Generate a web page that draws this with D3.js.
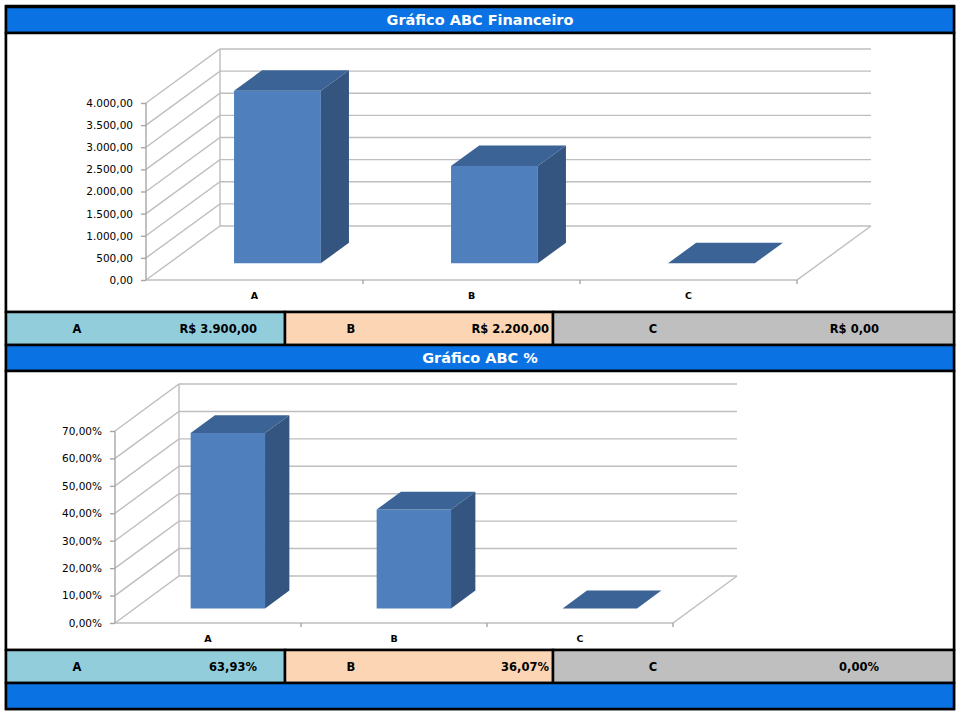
<!DOCTYPE html>
<html>
<head>
<meta charset="utf-8">
<script src="https://cdn.jsdelivr.net/npm/d3@7"></script>
<style>
  body { margin: 0; background: #fff; }
  svg { display: block; }
</style>
</head>
<body>
<div id="chart"></div>
<script>
// dados
var categorias = ['A', 'B', 'C'];
var valores = [3900, 2200, 0];
var percentuais = [63.93, 36.07, 0];
var ticksFinanceiro = [0, 500, 1000, 1500, 2000, 2500, 3000, 3500, 4000];
var ticksPercentual = [0, 10, 20, 30, 40, 50, 60, 70];
var titulos = ['Gráfico ABC Financeiro', 'Gráfico ABC %'];
var coresLinha = ['#92CDDC', '#FCD5B4', '#BFBFBF'];

var br = d3.formatLocale({ decimal: ',', thousands: '.', grouping: [3], currency: ['R$ ', ''] });
var fmtNum = br.format(',.2f'),
    fmtMoeda = br.format('$,.2f'),
    fmtPct = function(v) { return fmtNum(v) + '%'; };

var W = 960, H = 720;
var svg = d3.select('#chart').append('svg')
  .attr('width', W).attr('height', H)
  .attr('viewBox', '0 0 ' + W + ' ' + H);

var L = 6, R = 954;
var azul = '#0A72E2';
var fonteBold = '"DejaVu Sans", Verdana, sans-serif';

function barra(y0, y1, titulo) {
  svg.append('rect').attr('x', L).attr('y', y0).attr('width', R - L).attr('height', y1 - y0)
    .attr('fill', azul).attr('stroke', '#000').attr('stroke-width', 2.5);
  if (titulo) {
    svg.append('text').attr('x', (L + R) / 2).attr('y', (y0 + y1) / 2 + 1)
      .attr('text-anchor', 'middle').attr('dominant-baseline', 'middle')
      .attr('fill', '#fff').attr('font-family', fonteBold).attr('font-weight', 'bold')
      .attr('font-size', 14.5).text(titulo);
  }
}

function area(y0, y1) {
  svg.append('rect').attr('x', L).attr('y', y0).attr('width', R - L).attr('height', y1 - y0)
    .attr('fill', '#fff').attr('stroke', '#000').attr('stroke-width', 2.5);
}

function linha(y0, y1, textos) {
  var cols = [L, 285, 553, R];
  var lab = [77, 351, 653], val = [257, 549, 879];
  categorias.forEach(function(c, i) {
    svg.append('rect').attr('x', cols[i]).attr('y', y0).attr('width', cols[i + 1] - cols[i]).attr('height', y1 - y0)
      .attr('fill', coresLinha[i]).attr('stroke', '#000').attr('stroke-width', 2.5);
    svg.append('text').attr('x', lab[i]).attr('y', (y0 + y1) / 2 + 1)
      .attr('text-anchor', 'middle').attr('dominant-baseline', 'middle')
      .attr('font-family', fonteBold).attr('font-weight', 'bold').attr('font-size', 11.5)
      .attr('fill', '#000').text(c);
    svg.append('text').attr('x', val[i]).attr('y', (y0 + y1) / 2 + 1)
      .attr('text-anchor', 'end').attr('dominant-baseline', 'middle')
      .attr('font-family', fonteBold).attr('font-weight', 'bold').attr('font-size', 11.5)
      .attr('fill', '#000').text(textos[i]);
  });
}

// grafico de colunas 3D
function grafico3d(cfg) {
  var g = svg.append('g');
  var x = d3.scaleBand().domain(categorias).range([cfg.x0, cfg.x1]);
  var y = d3.scaleLinear().domain([0, cfg.max]).range([cfg.base, cfg.topo]);
  var dx = cfg.dx, dy = cfg.dy;
  var grade = '#BEBEBE';

  // grade: frente -> fundo -> direita
  g.selectAll('path.grade').data(cfg.ticks).enter().append('path')
    .attr('class', 'grade')
    .attr('fill', 'none').attr('stroke', grade).attr('stroke-width', 1.4)
    .attr('d', function(t) {
      return 'M' + cfg.x0 + ',' + y(t) + 'L' + (cfg.x0 + dx) + ',' + (y(t) + dy) +
        'L' + (cfg.x1 + dx) + ',' + (y(t) + dy);
    });
  // parede do fundo
  g.append('line').attr('x1', cfg.x0 + dx).attr('x2', cfg.x0 + dx)
    .attr('y1', y(0) + dy).attr('y2', y(cfg.max) + dy)
    .attr('stroke', grade).attr('stroke-width', 1.4);
  // piso
  g.append('path').attr('fill', 'none').attr('stroke', grade).attr('stroke-width', 1.4)
    .attr('d', 'M' + cfg.x0 + ',' + y(0) + 'L' + cfg.x1 + ',' + y(0) +
      'L' + (cfg.x1 + dx) + ',' + (y(0) + dy));

  // eixo y frontal
  var eixo = g.append('g').attr('transform', 'translate(' + cfg.x0 + ',0)')
    .call(d3.axisLeft(y).tickValues(cfg.ticks).tickFormat(cfg.fmt).tickSize(5).tickPadding(8));
  eixo.selectAll('path, line').attr('stroke', '#A6A6A6').attr('stroke-width', 1.4);
  eixo.select('.domain').attr('d', 'M0,' + y(0) + 'V' + y(cfg.max));
  eixo.selectAll('text').attr('font-family', '"DejaVu Sans", Verdana, sans-serif')
    .attr('font-size', 10.5).attr('fill', '#000');

  // eixo x
  var ex = g.append('g').attr('transform', 'translate(0,' + y(0) + ')')
    .call(d3.axisBottom(x).tickSize(0).tickPadding(12));
  ex.select('.domain').remove();
  ex.selectAll('text').attr('font-family', fonteBold).attr('font-weight', 'bold')
    .attr('font-size', 9.5).attr('fill', '#000');
  ex.selectAll('line.sep').data(categorias).enter().append('line').attr('class', 'sep')
    .attr('x1', function(d) { return x(d) + x.bandwidth(); })
    .attr('x2', function(d) { return x(d) + x.bandwidth(); })
    .attr('y1', 0).attr('y2', 4)
    .attr('stroke', '#A6A6A6').attr('stroke-width', 1.4);

  // colunas
  var prof0 = 0.31, prof1 = 0.69, larg = 0.4;
  var dados = categorias.map(function(c, i) { return { c: c, v: cfg.valores[i] }; });
  var col = g.selectAll('g.col').data(dados).enter().append('g').attr('class', 'col');
  function pt(xf, v, p) { return [xf + p * dx, y(v) + p * dy]; }
  function poly(pts) { return 'M' + pts.map(function(p) { return p.join(','); }).join('L') + 'Z'; }
  col.each(function(d) {
    var s = d3.select(this);
    var xa = x(d.c) + x.bandwidth() * (1 - larg) / 2,
        xb = xa + x.bandwidth() * larg;
    if (d.v > 0) {
      s.append('path').attr('fill', '#4F80BD')
        .attr('d', poly([pt(xa, 0, prof0), pt(xb, 0, prof0), pt(xb, d.v, prof0), pt(xa, d.v, prof0)]));
      s.append('path').attr('fill', '#34557F')
        .attr('d', poly([pt(xb, 0, prof0), pt(xb, 0, prof1), pt(xb, d.v, prof1), pt(xb, d.v, prof0)]));
    }
    s.append('path').attr('fill', '#3C6395')
      .attr('d', poly([pt(xa, d.v, prof0), pt(xb, d.v, prof0), pt(xb, d.v, prof1), pt(xa, d.v, prof1)]));
  });
}

// moldura
svg.append('rect').attr('x', L).attr('y', 6).attr('width', R - L).attr('height', 703)
  .attr('fill', '#fff').attr('stroke', '#000').attr('stroke-width', 2.5);

barra(7, 33, titulos[0]);
area(33, 312);
grafico3d({ x0: 146, x1: 797, base: 280, topo: 103, dx: 74, dy: -54, max: 4000,
  ticks: ticksFinanceiro, fmt: fmtNum, valores: valores });
linha(312, 345, valores.map(fmtMoeda));

barra(345, 371, titulos[1]);
area(371, 650);
grafico3d({ x0: 115, x1: 673, base: 623, topo: 431, dx: 64, dy: -47, max: 70,
  ticks: ticksPercentual, fmt: fmtPct, valores: percentuais });
linha(650, 683, percentuais.map(fmtPct));

barra(683, 709, null);
</script>
</body>
</html>
